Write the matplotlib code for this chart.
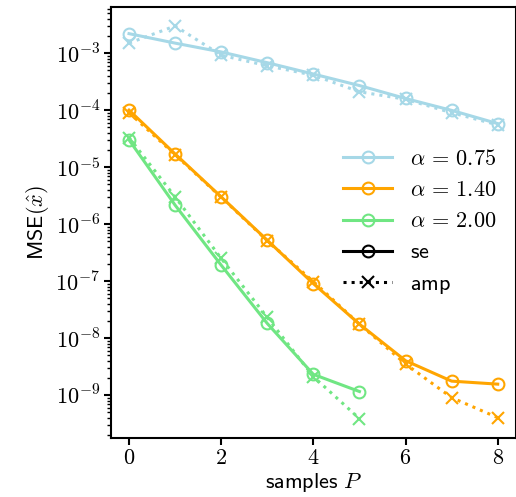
import numpy as np
import matplotlib
matplotlib.use("Agg")
import matplotlib.pyplot as plt
from matplotlib.lines import Line2D

plt.rcParams['mathtext.fontset'] = 'cm'
plt.rcParams['font.size'] = 16

# samples P
P_long = [0, 1, 2, 3, 4, 5, 6, 7, 8]
P_short = [0, 1, 2, 3, 4, 5]

# state evolution (se) curves
se_075 = [2.2e-3, 1.5e-3, 1.05e-3, 6.8e-4, 4.3e-4, 2.7e-4, 1.6e-4, 9.9e-5, 5.8e-5]
se_140 = [1.0e-4, 1.7e-5, 3.0e-6, 5.2e-7, 9.0e-8, 1.75e-8, 4.0e-9, 1.75e-9, 1.55e-9]
se_200 = [3.0e-5, 2.15e-6, 1.9e-7, 1.8e-8, 2.3e-9, 1.15e-9]

# amp simulations
amp_075 = [1.5e-3, 3.0e-3, 9.2e-4, 6.0e-4, 4.1e-4, 2.1e-4, 1.55e-4, 9.0e-5, 5.5e-5]
amp_140 = [9.0e-5, 1.65e-5, 2.95e-6, 5.1e-7, 9.8e-8, 1.75e-8, 3.5e-9, 9.0e-10, 4.0e-10]
amp_200 = [3.3e-5, 3.0e-6, 2.5e-7, 2.3e-8, 2.1e-9, 3.85e-10]

alphas = ['0.75', '1.40', '2.00']
colors = ['#a6d8e7', '#ffa500', '#70e683']


def plot_mse():
    """
    Plots MSE against number of samples for se and amp
    """
    fig = plt.figure(figsize=(5.16, 4.97), dpi=100)
    ax = fig.add_axes([0.2143, 0.1193, 0.786, 0.8666])

    se_all = [(P_long, se_075), (P_long, se_140), (P_short, se_200)]
    amp_all = [(P_long, amp_075), (P_long, amp_140), (P_short, amp_200)]

    for (xs, ys), (xa, ya), c in zip(se_all, amp_all, colors):
        ax.plot(xs, ys, '-', color=c, lw=2.2, marker='o', ms=8.5,
                mfc='none', mew=1.5)
        ax.plot(xa, ya, ':', color=c, lw=2.2, marker='x', ms=8.5, mew=1.5)

    ax.set_yscale('log')
    ax.set_xlim(-0.4, 8.4)
    ax.set_ylim(10 ** -9.75, 10 ** -2.19)
    ax.set_xticks([0, 2, 4, 6, 8])
    ax.set_xticklabels(['$0$', '$2$', '$4$', '$6$', '$8$'])
    ax.set_yticks([10.0 ** k for k in range(-9, -2)])
    ax.set_yticklabels(['$10^{%d}$' % k for k in range(-9, -2)])
    ax.tick_params(which='major', length=5, width=1.5, pad=2.5)
    ax.tick_params(which='minor', length=3, width=1.0)
    for sp in ax.spines.values():
        sp.set_linewidth(1.5)

    ax.set_xlabel(r'$\mathsf{samples}\ P$', fontsize=16, labelpad=2)
    ax.set_ylabel(r'$\mathsf{MSE}(\hat{x})$', fontsize=16, labelpad=3)

    handles = []
    labels = []
    for a, c in zip(alphas, colors):
        handles.append(Line2D([], [], color=c, lw=2.2, marker='o', ms=8.5,
                              mfc='none', mew=1.5))
        labels.append(r'$\alpha\,=\,%s$' % a)
    handles.append(Line2D([], [], color='k', lw=2.2, marker='o', ms=8.5,
                          mfc='none', mew=1.5))
    labels.append(r'$\mathsf{se}$')
    handles.append(Line2D([], [], color='k', lw=2.2, ls=':', marker='x',
                          ms=8.5, mew=1.5))
    labels.append(r'$\mathsf{amp}$')
    ax.legend(handles, labels, frameon=False, loc='center right',
              bbox_to_anchor=(1.0, 0.5), handlelength=2.2, fontsize=16,
              labelspacing=0.5, handletextpad=0.8)

    fig.savefig('out.png', dpi=100)


if __name__ == "__main__":
    plot_mse()
